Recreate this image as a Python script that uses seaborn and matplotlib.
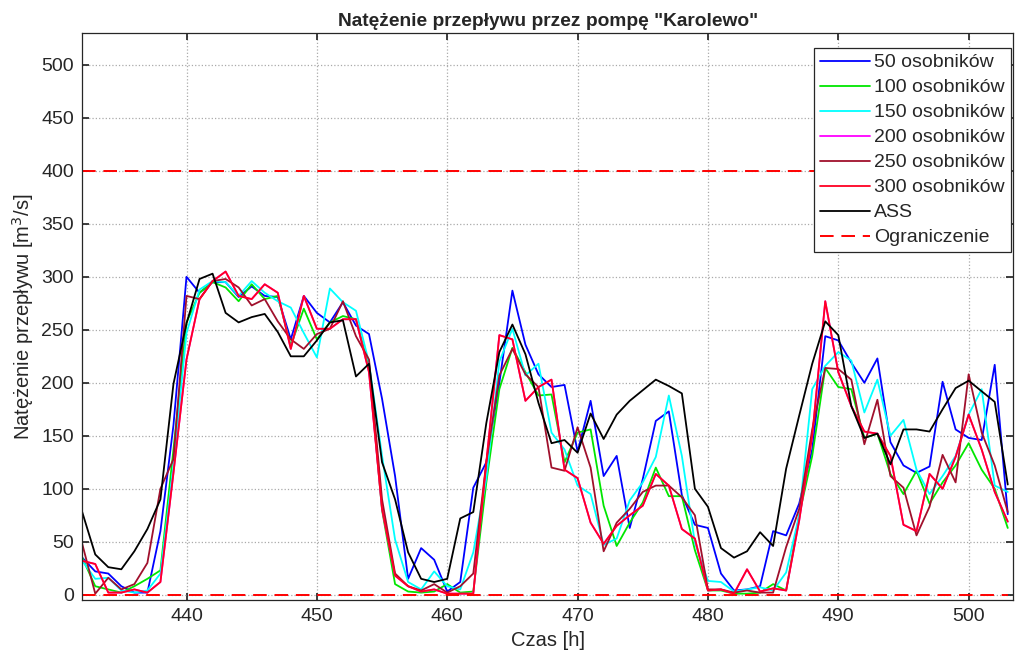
import numpy as np
import pandas as pd
import matplotlib
matplotlib.use("Agg")
import matplotlib.pyplot as plt
import seaborn as sns

# time axis [h]
hours = np.arange(432, 504)

# flow through pump "Karolewo" [m3/s], one value per hour
flow_50 = [35, 22, 20, 8, 2, 2, 60, 160, 300, 285,
           295, 295, 281, 291, 282, 281, 241, 282, 266, 257,
           276, 254, 246, 185, 112, 15, 44, 33, 3, 12,
           101, 125, 200, 287, 236, 208, 196, 198, 135, 183,
           112, 131, 63, 109, 164, 173, 94, 66, 63, 20,
           4, 5, 8, 60, 56, 86, 137, 244, 240, 219,
           200, 223, 144, 122, 115, 121, 201, 156, 148, 146,
           217, 76]
flow_100 = [35, 8, 5, 2, 8, 15, 23, 137, 257, 285,
            295, 290, 277, 293, 279, 282, 235, 270, 241, 257,
            263, 260, 215, 80, 10, 3, 2, 3, 10, 2,
            3, 106, 194, 233, 210, 188, 189, 125, 153, 156,
            84, 46, 68, 87, 120, 93, 93, 42, 4, 4,
            1, 1, 2, 10, 4, 75, 131, 214, 196, 194,
            148, 152, 114, 95, 117, 86, 106, 122, 143, 118,
            100, 63]
flow_150 = [32, 15, 16, 4, 2, 4, 20, 122, 247, 288,
            296, 295, 282, 296, 285, 277, 271, 247, 224, 289,
            276, 268, 219, 131, 52, 12, 5, 22, 8, 5,
            40, 110, 220, 251, 207, 218, 153, 137, 103, 95,
            47, 53, 89, 106, 130, 188, 131, 49, 13, 12,
            3, 5, 7, 4, 21, 75, 194, 216, 229, 221,
            172, 203, 150, 165, 118, 95, 112, 131, 170, 194,
            103, 97]
flow_250 = [48, 1, 16, 5, 10, 30, 100, 128, 282, 279,
            296, 298, 290, 273, 279, 258, 241, 232, 246, 251,
            277, 244, 222, 90, 20, 8, 4, 10, 2, 8,
            20, 125, 207, 232, 208, 196, 120, 117, 158, 120,
            41, 68, 81, 97, 103, 103, 92, 75, 5, 5,
            2, 4, 2, 2, 45, 81, 156, 214, 213, 203,
            142, 184, 112, 101, 56, 83, 132, 106, 208, 153,
            122, 78]
flow_300 = [32, 29, 2, 2, 5, 2, 12, 115, 222, 279,
            296, 305, 282, 279, 293, 285, 232, 282, 251, 251,
            260, 260, 210, 81, 18, 8, 3, 5, 1, 1,
            1, 125, 245, 241, 183, 196, 203, 118, 110, 68,
            48, 65, 75, 84, 114, 103, 62, 53, 4, 5,
            1, 24, 3, 6, 4, 70, 150, 277, 210, 178,
            154, 152, 131, 66, 60, 114, 100, 130, 170, 137,
            97, 69]
# 200 osobnikow lies under the 300 curve in the source figure
flow_200 = list(flow_300)
flow_ass = [78, 38, 26, 24, 41, 62, 90, 199, 256, 298,
            303, 266, 257, 262, 265, 248, 225, 225, 240, 257,
            259, 206, 218, 125, 90, 40, 15, 12, 15, 72,
            78, 162, 229, 255, 227, 181, 143, 146, 134, 171,
            147, 170, 183, 193, 203, 197, 190, 100, 83, 44,
            35, 41, 59, 46, 119, 169, 218, 258, 245, 178,
            148, 152, 123, 156, 156, 154, 175, 195, 202, 192,
            182, 104]

limits = [0, 400]

labels = ["50 osobników", "100 osobników", "150 osobników", "200 osobników",
          "250 osobników", "300 osobników", "ASS"]
series = [flow_50, flow_100, flow_150, flow_200, flow_250, flow_300, flow_ass]
colors = ["#0000FF", "#00E600", "#00FFFF", "#FF00FF", "#A0102C", "#FF0022", "#000000"]

sns.set_theme(style="ticks")
plt.rcParams["font.family"] = ["Liberation Sans", "DejaVu Sans"]

fig, ax = plt.subplots(figsize=(10.15, 6.63), dpi=100)
fig.subplots_adjust(left=0.081, right=0.998, bottom=0.095, top=0.950)

for lab, vals, col in zip(labels, series, colors):
    sns.lineplot(x=hours, y=vals, color=col, lw=1.3, label=lab, ax=ax)

ax.hlines(limits, hours[0], hours[-1], colors="#FF0000", linestyles=(0, (7, 4)),
          lw=1.4, label="Ograniczenie")

ax.set_xlim(432, 503.4)
ax.set_ylim(-5, 530)
ax.set_xticks(np.arange(440, 501, 10))
ax.set_yticks(np.arange(0, 501, 50))
ax.grid(True, ls=":", color="#aaaaaa", lw=0.9)
ax.tick_params(direction="in", top=True, right=True, labelsize=14,
               length=5, colors="#262626", pad=6)
for s in ax.spines.values():
    s.set_color("#262626")
    s.set_linewidth(0.9)

ax.set_title('Natężenie przepływu przez pompę "Karolewo"', fontsize=13.8,
             fontweight="bold", pad=5)
ax.set_xlabel("Czas [h]", fontsize=14.5, color="#262626")
ax.set_ylabel("Natężenie przepływu [m$^3$/s]", fontsize=14.5, color="#262626")

handles, labs = ax.get_legend_handles_labels()
leg = ax.legend(handles, labs, loc="upper right", bbox_to_anchor=(0.9975, 0.974),
                fontsize=14, frameon=True, fancybox=False, edgecolor="#262626",
                framealpha=1, handlelength=2.6, handletextpad=0.2,
                labelspacing=0.38, borderpad=0.3, borderaxespad=0)
leg.get_frame().set_linewidth(0.9)

fig.savefig("out.png", dpi=100)
